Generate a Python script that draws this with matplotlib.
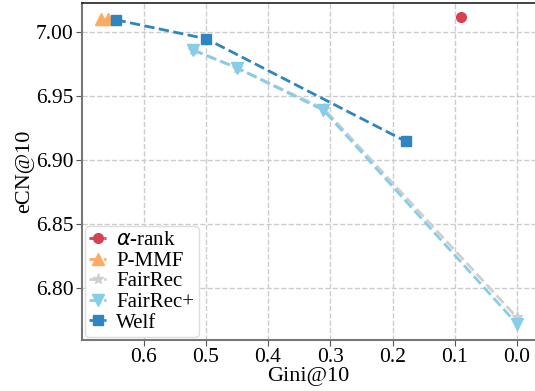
import matplotlib
matplotlib.use("Agg")
import matplotlib.pyplot as plt

plt.rcParams['font.family'] = ['Liberation Serif', 'DejaVu Serif']
plt.rcParams['mathtext.fontset'] = 'dejavusans'

# Data
arank_x = [0.09]
arank_y = [7.0118]
pmmf_x = [0.669, 0.658]
pmmf_y = [7.0100, 7.0100]
fairrec_x = [0.52, 0.45, 0.31, 0.0]
fairrec_y = [6.986, 6.972, 6.940, 6.777]
fairrecp_x = [0.521, 0.450, 0.311, 0.0]
fairrecp_y = [6.986, 6.972, 6.939, 6.772]
welf_x = [0.645, 0.499, 0.179]
welf_y = [7.0096, 6.9947, 6.9147]

xticks = [0.6, 0.5, 0.4, 0.3, 0.2, 0.1, 0.0]
yticks = [6.80, 6.85, 6.90, 6.95, 7.00]

fig = plt.figure(figsize=(5.35, 3.91), dpi=100)
ax = fig.add_axes([82/535, 1-340/391, (535-82)/535, (340-3)/391])

ax.plot(arank_x, arank_y, color='#d7404f', marker='o', markersize=7, linestyle='--', linewidth=2, label=r'$\alpha$-rank', zorder=3)
ax.plot(pmmf_x, pmmf_y, color='#fdab62', marker='^', markersize=8, linestyle='--', linewidth=2, label='P-MMF', zorder=3)
ax.plot(fairrec_x, fairrec_y, color='#cfcfcf', marker='*', markersize=8, linestyle='--', linewidth=2, label='FairRec', zorder=3)
ax.plot(fairrecp_x, fairrecp_y, color='#87cdea', marker='v', markersize=8, linestyle='--', linewidth=2, label='FairRec+', zorder=4)
ax.plot(welf_x, welf_y, color='#2f85c0', marker='s', markersize=7, linestyle='--', linewidth=2, label='Welf', zorder=5)

ax.set_xlim(0.699, -0.029)
ax.set_ylim(6.7594, 7.0227)
ax.set_xticks(xticks)
ax.set_xticklabels([f'{t:.1f}' for t in xticks])
ax.set_yticks(yticks)
ax.set_yticklabels([f'{t:.2f}' for t in yticks])
ax.tick_params(labelsize=15.5, length=4, color='#555555', pad=2)
ax.set_xlabel('Gini@10', fontsize=16, labelpad=0)
ax.set_ylabel('eCN@10', fontsize=16, labelpad=1)
ax.grid(True, linestyle='--', color='#cccccc', linewidth=1)
ax.set_axisbelow(True)
for s in ['left', 'bottom']:
    ax.spines[s].set_color('#777777')
    ax.spines[s].set_linewidth(1.5)
ax.spines['top'].set_color('#222222')
ax.spines['top'].set_linewidth(1.2)
ax.spines['right'].set_visible(False)

leg = ax.legend(loc='lower left', fontsize=15, frameon=True, handlelength=0.8,
                borderpad=0.2, labelspacing=0.05, handletextpad=0.5, borderaxespad=0.15)
leg.get_frame().set_edgecolor('#dddddd')
leg.get_frame().set_alpha(1)

fig.savefig('out.png', dpi=100)
